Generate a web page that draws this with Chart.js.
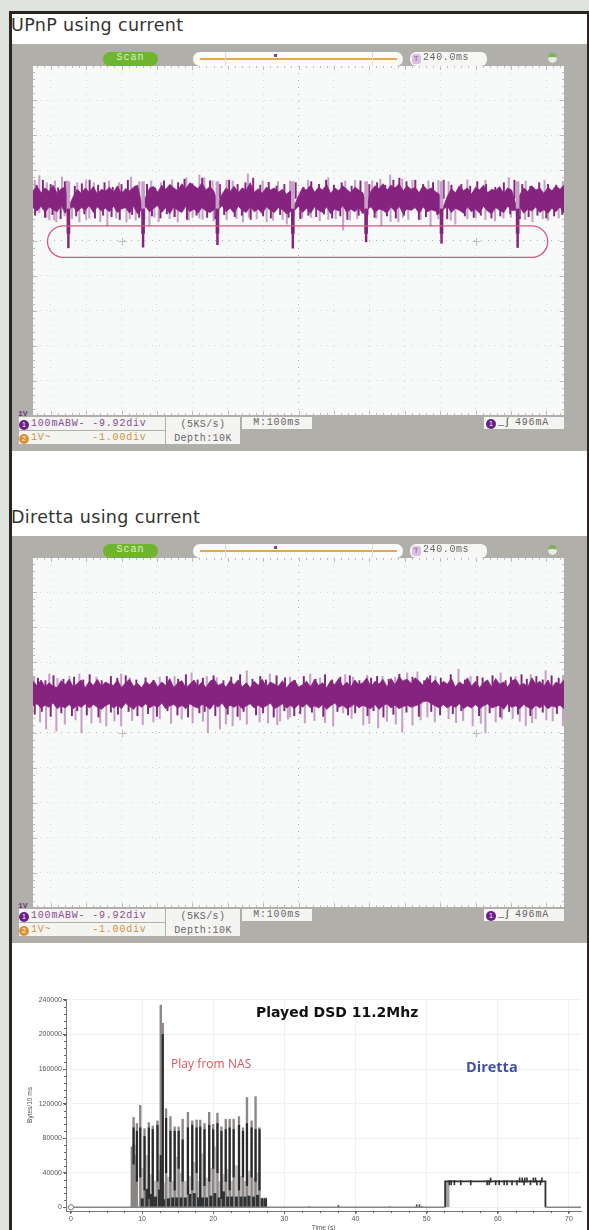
<!DOCTYPE html>
<html>
<head>
<meta charset="utf-8">
<title>UPnP vs Diretta</title>
<script src="https://cdn.jsdelivr.net/npm/chart.js@4/dist/chart.umd.min.js"></script>
<style>
html, body { margin: 0; padding: 0; background: #dfe3de; }
body { position: relative; width: 589px; height: 1230px; overflow: hidden; }
#card { position: absolute; left: 9px; top: 11px; width: 575px; height: 1225px; background: #fff; border: 3px solid #2a2422; border-width: 3px 3px 0 3px; }
.abs, canvas { position: absolute; }
.head { position: absolute; left: 11px; font: 17.5px "DejaVu Sans", sans-serif; letter-spacing: 0.35px; color: #333; white-space: nowrap; }
.panel { position: absolute; left: 12px; width: 575px; height: 407px; background: #b1afa9; filter: blur(0.35px); }
.panel canvas { left: 21px; top: 22px; }
.panel div { position: absolute; box-sizing: border-box; font: 10px "Liberation Mono", monospace; white-space: pre; color: #666; }
.scan { left: 91px; top: 8px; width: 55px; height: 14px; border-radius: 7px; background: #70b52f; color: #dff0cc !important; text-align: center; line-height: 14px; letter-spacing: 1px; }
.bar { left: 181px; top: 8px; width: 210px; height: 14px; border-radius: 7px; background: #fbfbfa; }
.bar i { position: absolute; display: block; }
.tbox { left: 398px; top: 8px; width: 77px; height: 14px; border-radius: 6px; background: #f6f6f5; padding-left: 13px; line-height: 14px; letter-spacing: 0.6px; }
.tbox b { position: absolute; left: 2px; top: 2px; width: 9px; height: 10px; border-radius: 3px; background: #d9bfe0; color: #8a5a9c; font: 8px "Liberation Mono", monospace; line-height: 10px; text-align: center; }
.icon { left: 536px; top: 9px; width: 9px; height: 10px; border-radius: 50%; background: #e8ece4; border-top: 4px solid #7db356; }
.cell { background: #f4f4f2; line-height: 15px; letter-spacing: 0.8px; }
.dot { display: inline-block; width: 10px; height: 10px; margin-right: 2px; border-radius: 50%; color: #fff; font: 7px "Liberation Sans", sans-serif; line-height: 10px; text-align: center; vertical-align: -1px; letter-spacing: 0; }
.note { position: absolute; white-space: nowrap; }
</style>
</head>
<body>
<div id="card"></div>
<div class="head" style="top:15px">UPnP using current</div>
<div class="head" style="top:507px">Diretta using current</div>
<div class="panel" id="panelUpnp" style="top:44px"><canvas id="scopeUpnp" width="531" height="349"></canvas></div>
<div class="panel" id="panelDiretta" style="top:536px"><canvas id="scopeDiretta" width="531" height="349"></canvas></div>
<canvas id="bytesChart" width="566" height="240" style="left:20px;top:990px;filter:blur(0.3px)"></canvas>
<div class="note" style="left:256px;top:1004px;font:bold 14px 'DejaVu Sans',sans-serif;color:#111">Played DSD 11.2Mhz</div>
<div class="note" style="left:171px;top:1055px;font:12px 'Open Sans',sans-serif;letter-spacing:0.05px;color:#d9535b">Play from NAS</div>
<div class="note" style="left:466px;top:1057px;font:bold 14.5px 'Open Sans',sans-serif;color:#3f52a3">Diretta</div>
<script>
// scope screens: 100 mA/div, 100 ms/div
const scopeTimeTicks = [-700, -600, -500, -400, -300, -200, -100, 0, 100, 200, 300, 400, 500, 600, 700];
const scopeCurrentTicks = [-400, -300, -200, -100, 0, 100, 200, 300, 400];

// UPnP trace, one column each ~11 ms across the screen (mA)
const upnpCoreTop = [
  142,155,136,150,140,158,134,148,152,100,
  125,146,134,150,138,154,132,146,141,152,
  138,156,133,148,142,152,158,104,124,150,
  154,138,158,146,160,150,142,162,148,165,
  156,148,164,144,154,140,106,132,150,140,
  155,136,150,144,165,138,148,134,152,144,
  150,138,146,132,142,100,128,150,144,158,
  138,152,144,160,134,150,142,156,146,136,
  152,144,136,104,140,156,148,162,144,158,
  150,162,142,156,146,152,136,158,144,150,
  140,132,96,126,148,136,156,142,150,132,
  152,144,158,136,146,142,154,134,150,144,
  104,130,150,140,156,144,150,134,152,142,
  156,146,158];
const upnpCoreBottom = [
  94,84,98,80,96,88,82,100,78,90,
  96,82,94,86,100,80,96,84,92,82,
  98,80,90,94,78,98,76,88,96,82,
  92,100,80,94,76,96,86,80,98,82,
  90,78,94,84,80,88,86,100,82,92,
  78,98,86,80,98,82,90,76,96,86,
  80,94,88,76,82,86,98,80,92,78,
  96,86,80,96,76,90,84,100,80,90,
  82,94,76,88,96,80,90,86,78,96,
  82,98,78,90,86,94,78,96,82,88,
  84,76,88,98,80,92,86,78,96,82,
  90,78,98,84,76,94,86,80,98,86,
  86,96,78,90,84,96,80,88,78,92,
  82,96,78];
const upnpUpMs = [-745,-732,-711,-688,-668,-654,-625,-600,-578,-535,-507,-473,-450,-416,-388,-357,-317,-280,-266,-243,-203,-186,-143,-101,-58,-24,27,84,132,160,208,231,259,293,322,367,395,424,477,528,594,642,695,747];
const upnpUpMa = [172,185,165,170,181,170,165,173,165,170,165,181,168,170,165,173,179,187,179,170,172,170,190,170,168,170,172,179,170,172,170,175,187,175,172,170,172,168,173,172,179,170,172,168];
const upnpDownMs = [-732,-704,-684,-661,-619,-591,-540,-486,-477,-421,-407,-364,-341,-299,-271,-203,-157,-118,-72,-33,10,84,126,166,234,282,310,373,443,477,528,579,661,690,735,
  -712,-690,-640,-600,-560,-515,-460,-435,-395,-350,-310,-280,-240,-175,-140,-90,-45,35,60,105,145,220,260,295,345,395,430,500,555,600,640,705];
const upnpDownMa = [79,59,53,70,53,64,41,53,62,41,66,62,53,66,60,60,53,62,58,47,64,60,30,62,41,53,60,41,47,62,60,64,53,62,64,
  66,58,62,60,54,64,58,60,54,68,58,64,56,62,66,54,60,66,56,62,58,64,54,66,60,62,58,64,56,66,60,58];
const upnpDarkUpMs = [-740,-722,-700,-679,-660,-632,-612,-590,-566,-548,-525,-500,-482,-461,-428,-405,-380,-362,-340,-322,-300,-272,-250,-222,-196,-172,-150,-128,-108,-84,-62,-40,-8,14,36,58,78,100,122,150,175,200,222,245,268,285,305,330,352,380,410,432,460,485,505,530,556,580,610,632,655,680,705,728];
const upnpDarkUpMa = [158,172,160,150,168,155,162,172,158,165,152,160,172,155,160,150,170,158,165,175,162,178,170,160,172,160,165,178,158,166,155,160,165,152,168,160,172,158,165,155,170,160,165,158,172,178,168,172,160,165,172,158,160,155,168,160,152,165,172,160,155,165,160,158];
const upnpDarkDownMs = [-744,-716,-695,-672,-628,-605,-575,-552,-528,-505,-470,-450,-414,-390,-372,-350,-315,-288,-258,-235,-210,-180,-160,-135,-100,-78,-52,-28,5,28,50,72,95,118,138,170,195,215,250,275,298,340,360,392,420,470,495,515,545,570,598,625,650,675,700,722,745];
const upnpDarkDownMa = [72,66,74,62,70,76,64,72,68,60,74,66,70,64,76,68,60,72,66,62,74,68,72,60,70,64,74,66,62,72,68,76,64,70,60,72,74,66,70,64,72,60,68,74,62,70,66,72,64,70,76,62,68,72,64,70,74];
const upnpDipMs = [-650,-439,-229,-16,191,404,619];
const upnpDipMa = [-21,-19,-12,-22,-4,-8,-20];

// Diretta trace
const direttaCoreTop = [
  146,134,150,130,142,132,128,148,136,152,
  130,140,150,128,146,134,152,132,144,138,
  134,150,128,142,152,132,140,128,146,136,
  150,130,144,134,154,128,142,148,128,138,
  150,132,144,128,146,152,134,140,130,148,
  136,150,130,142,128,146,134,152,130,144,
  138,132,148,128,142,150,130,136,146,130,
  152,134,142,128,148,136,154,132,144,130,
  150,136,142,156,130,146,138,152,130,154,
  136,160,146,152,140,156,146,134,158,140,
  150,134,146,138,154,130,144,136,156,132,
  146,128,142,150,130,154,138,144,130,148,
  152,134,140,130,156,138,146,132,150,128,
  144,136,150];
const direttaCoreBottom = [
  76,82,70,78,72,84,68,76,70,80,
  68,78,72,82,70,80,72,66,76,82,
  70,78,68,84,74,66,80,72,82,70,
  78,72,84,68,76,80,70,78,68,82,
  74,70,80,76,66,82,72,84,68,78,
  72,80,68,76,82,70,78,70,76,84,
  68,74,82,70,78,68,80,72,82,70,
  76,70,80,66,76,84,72,78,68,74,
  82,70,78,72,68,80,66,76,82,70,
  78,68,74,78,72,76,80,88,90,82,
  76,70,80,70,78,72,82,68,76,70,
  80,68,76,82,70,74,78,66,82,72,
  76,68,80,72,66,78,70,80,68,76,
  72,78,68];
const direttaUpMs = [-747,-704,-681,-647,-619,-571,-501,-477,-392,-350,-302,-259,-231,-146,-81,-24,33,61,132,154,194,237,273,307,336,387,452,486,571,613,656,698,747];
const direttaUpMa = [160,167,155,160,167,158,167,156,158,160,170,160,156,176,167,158,167,156,165,158,163,160,158,170,173,160,181,160,170,160,165,176,163];
const direttaDownMs = [-713,-684,-613,-585,-543,-520,-501,-392,-299,-256,-222,-186,-146,-86,-52,-24,18,98,126,183,225,293,322,364,424,492,528,557,605,642,670,718,747,
  -730,-660,-630,-560,-470,-440,-410,-360,-330,-270,-205,-165,-110,-60,-30,45,75,150,200,250,275,345,385,445,465,515,575,625,660,700];
const direttaDownMa = [10,4,-1,27,19,33,19,39,27,-1,10,19,24,27,33,44,27,19,56,21,13,1,21,44,39,19,-1,30,39,19,39,33,19,
  30,24,36,28,34,22,30,26,38,32,24,36,30,22,38,34,28,40,26,32,24,36,30,28,34,26,38,32,28,36];
const direttaDarkUpMs = [-736,-715,-692,-664,-634,-608,-590,-556,-530,-512,-488,-458,-432,-410,-372,-340,-318,-285,-270,-240,-212,-190,-165,-130,-108,-92,-62,-38,-10,15,48,75,95,118,145,172,205,222,255,285,300,322,355,372,402,430,470,505,520,548,585,600,630,645,672,690,715,735];
const direttaDarkUpMa = [155,148,162,152,158,150,165,148,160,155,162,150,156,148,160,152,165,150,155,162,148,158,165,152,160,150,162,156,148,160,152,165,150,158,162,148,155,160,152,166,150,158,148,162,155,165,150,160,156,162,148,158,165,152,160,150,162,155];
const direttaDarkDownMs = [-745,-725,-700,-670,-640,-625,-598,-565,-530,-510,-480,-455,-425,-400,-370,-342,-312,-280,-265,-235,-200,-172,-155,-120,-100,-70,-40,-12,5,38,70,110,140,160,195,212,240,268,305,340,375,400,436,460,510,540,570,595,620,655,690,730];
const direttaDarkDownMa = [52,60,46,56,48,62,50,44,58,52,60,48,54,46,62,50,44,56,60,48,52,46,60,50,56,44,62,48,54,58,46,60,50,56,48,62,44,52,58,46,60,50,54,62,48,56,44,60,52,48,58,54];

// trigger envelope around the UPnP dips
const dipPillMs = [-709, 704];
const dipPillMa = [42, -48];

// bytes chart
const byteTimeTicks = [0, 10, 20, 30, 40, 50, 60, 70];
const byteValueTicks = [0, 40000, 80000, 120000, 160000, 200000, 240000];
const burstTimes = [8.8,9.27,9.74,10.34,10.95,11.5,12.16,12.62,12.9,13.37,13.98,14.58,15.14,15.7,16.44,17.05,17.66,18.17,18.77,19.43,19.99,20.59,21.15,21.76,22.31,22.87,23.62,24.18,24.74,25.39,25.95,26.5];
const burstPeaks = [104000,97000,118000,91000,98000,94000,100000,234000,213000,114000,105000,93000,93000,102000,110000,100000,101000,101000,97000,110000,96000,109000,93000,102000,102000,102000,105000,92000,127000,100000,128000,92000];
const burstDarkTop = [92000,88000,92000,82000,92000,90000,95000,60000,200000,103000,88000,88000,88000,78000,92000,95000,92000,93000,90000,95000,90000,97000,88000,90000,92000,90000,95000,88000,97000,92000,90000,90000];
const burstDarkBottom = [50000,30000,35000,20000,10000,0,30000,0,0,40000,30000,20000,45000,30000,15000,20000,40000,0,25000,30000,45000,40000,10000,30000,20000,35000,20000,35000,25000,35000,30000,20000];
const floorTimes = [10.02,10.67,11.28,11.88,12.44,13.05,13.7,14.3,14.86,15.47,16.07,16.72,17.33,17.94,18.5,19.05,19.66,20.22,20.82,21.43,22.03,22.59,23.25,23.9,24.46,25.02,25.67,26.23,26.88,27.35];
const floorBytes = [10000,21000,15000,12000,20000,9000,10000,11000,11000,11000,11000,15000,16000,11000,11000,11000,13000,16000,11000,18000,12000,12000,12000,12000,12000,13000,12000,14000,10000,10000];
const hazeBytes = [45000,60000,38000,30000,42000,28000,35000,30000,58000,40000,30000,36000,52000,30000,62000,34000,45000,70000,30000,38000,44000,30000,48000,36000,30000,42000,34000,40000,11000,11000];
const hazeLeftTimes = [8.6, 8.85, 9.1];
const hazeLeftBytes = [70000, 72000, 60000];
const idleTimes = [0, 52.6, 52.6, 66.7, 66.7, 71.7];
const idleBytes = [0, 0, null, null, 0, 0];
const plateauTimes = [52.6, 52.6, 66.7, 66.7];
const plateauBytes = [0, 30000, 30000, 0];
const idleBlipTimes = [33.5, 37.6, 44.8, 48.6, 49.0, 49.3];
const idleBlipBytes = [500, 2200, 600, 3000, 3000, 800];
const direttaTickUp = [59.0, 63.07, 63.44, 63.8, 64.1, 65.0, 65.3, 66.2];
const direttaTickDown = [53.2, 53.45, 53.9, 54.8, 56.2, 58.5, 58.8, 59.7, 60.2, 60.9, 61.3, 62.0, 62.7, 63.7, 64.6, 65.5, 66.0];

const TRACE_DARK = '#86237f';
const TRACE_LIGHT = '#c7a0c7';
const GRID_DOT = '#d6d7d6';

function columns(values) {
    // columns are evenly spread over the 1500 ms on screen
    return values.map((v, i) => ({ x: -750 + i * 1500 / (values.length - 1), y: v }));
}

function spikes(times, values, base) {
    return times.map((t, i) => ({ x: t, y: [base, values[i]] }));
}

// frame ticks, centre crosses and the red envelope
const scopeDecor = {
    id: 'scopeDecor',
    beforeDatasetsDraw(chart) {
        const g = chart.ctx, x = chart.scales.x, y = chart.scales.y, a = chart.chartArea;
        g.save();
        g.strokeStyle = '#bdbdbd';
        g.lineWidth = 1;
        g.beginPath();
        for (let t = -740; t <= 740; t += 20) {
            const len = t % 100 === 0 ? 4 : 2, px = Math.round(x.getPixelForValue(t)) + 0.5;
            g.moveTo(px, a.top); g.lineTo(px, a.top + len);
            g.moveTo(px, a.bottom); g.lineTo(px, a.bottom - len);
        }
        for (let v = -480; v <= 480; v += 20) {
            const len = v % 100 === 0 ? 4 : 2, py = Math.round(y.getPixelForValue(v)) + 0.5;
            g.moveTo(a.left, py); g.lineTo(a.left + len, py);
            g.moveTo(a.right, py); g.lineTo(a.right - len, py);
        }
        [-500, 500].forEach(t => {
            const px = Math.round(x.getPixelForValue(t)) + 0.5, py = Math.round(y.getPixelForValue(0)) + 0.5;
            g.moveTo(px - 4, py); g.lineTo(px + 4, py);
            g.moveTo(px, py - 4); g.lineTo(px, py + 4);
        });
        g.stroke();
        g.restore();
    },
    afterDatasetsDraw(chart, args, opts) {
        if (!opts.pillMs) return;
        const g = chart.ctx, x = chart.scales.x, y = chart.scales.y;
        const left = x.getPixelForValue(opts.pillMs[0]), right = x.getPixelForValue(opts.pillMs[1]);
        const top = y.getPixelForValue(opts.pillMa[0]), bottom = y.getPixelForValue(opts.pillMa[1]);
        g.save();
        g.strokeStyle = '#d9567c';
        g.lineWidth = 1.3;
        g.beginPath();
        g.roundRect(left, top, right - left, bottom - top, (bottom - top) / 2);
        g.stroke();
        g.restore();
    }
};

function drawScope(id, trace, pill) {
    const datasets = [
        { type: 'bar', data: spikes(trace.upMs, trace.upMa, 120), backgroundColor: TRACE_LIGHT, barThickness: 1.4, order: 5 },
        { type: 'bar', data: spikes(trace.downMs, trace.downMa, 100), backgroundColor: TRACE_LIGHT, barThickness: 1.4, order: 5 },
        { type: 'bar', data: spikes(trace.darkUpMs, trace.darkUpMa, 120), backgroundColor: TRACE_DARK, barThickness: 1.3, order: 4 },
        { type: 'bar', data: spikes(trace.darkDownMs, trace.darkDownMa, 100), backgroundColor: TRACE_DARK, barThickness: 1.3, order: 4 },
        { type: 'line', data: columns(trace.top), borderColor: TRACE_DARK, backgroundColor: TRACE_DARK, borderWidth: 0.8, pointRadius: 0, fill: '+1', order: 3 },
        { type: 'line', data: columns(trace.bottom), borderColor: TRACE_DARK, borderWidth: 0.8, pointRadius: 0, fill: false, order: 3 }
    ];
    if (trace.dipMs) {
        datasets.push({ type: 'bar', data: spikes(trace.dipMs, trace.dipMs.map(() => 168), 70), backgroundColor: TRACE_LIGHT, barThickness: 3, order: 2 });
        datasets.push({ type: 'bar', data: spikes(trace.dipMs, trace.dipMs.map(() => 20), 90), backgroundColor: TRACE_DARK, barThickness: 3, order: 1 });
        datasets.push({ type: 'bar', data: spikes(trace.dipMs, trace.dipMa, 40), backgroundColor: TRACE_DARK, barThickness: 1.8, order: 1 });
    }
    return new Chart(document.getElementById(id), {
        type: 'bar',
        data: { datasets },
        options: {
            responsive: false,
            animation: false,
            events: [],
            layout: { padding: 0 },
            datasets: { bar: { grouped: false } },
            plugins: { legend: { display: false }, tooltip: { enabled: false }, scopeDecor: pill || {} },
            scales: {
                x: {
                    type: 'linear', min: -750, max: 750, offset: false,
                    afterBuildTicks: s => { s.ticks = scopeTimeTicks.map(v => ({ value: v })); },
                    grid: { offset: false, drawTicks: false, color: c => c.tick.value === 0 ? '#b0b0b0' : GRID_DOT },
                    border: { display: false, dash: [1, 6] },
                    ticks: { display: false }
                },
                y: {
                    min: -498, max: 498,
                    afterBuildTicks: s => { s.ticks = scopeCurrentTicks.map(v => ({ value: v })); },
                    grid: { drawTicks: false, color: c => c.tick.value === 0 ? '#b0b0b0' : GRID_DOT },
                    border: { display: false, dash: [1, 6] },
                    ticks: { display: false }
                }
            }
        },
        plugins: [scopeDecor, { id: 'screen', beforeDraw(c) { c.ctx.fillStyle = '#f8f9f9'; c.ctx.fillRect(0, 0, c.width, c.height); } }]
    });
}

// the instrument chrome around each screen
function addChrome(panelId) {
    const p = document.getElementById(panelId);
    const circle = (n, col) => `<span class="dot" style="background:${col}">${n}</span>`;
    p.insertAdjacentHTML('beforeend', `
        <div class="scan">Scan</div>
        <div class="bar">
            <i style="left:7px;top:6px;width:197px;height:1.5px;background:#e3a94c"></i>
            <i style="left:32px;top:0;width:1px;height:14px;background:#dcdcdc"></i>
            <i style="left:179px;top:0;width:1px;height:14px;background:#dcdcdc"></i>
            <i style="left:81px;top:2px;width:3px;height:3px;background:#8a3d8f"></i>
        </div>
        <div class="tbox"><b>T</b>240.0ms</div>
        <div class="icon"></div>
        <div style="left:6px;top:365px;font:bold 8px 'Liberation Mono',monospace;color:#6b3a7d">1V</div>
        <div class="cell" style="left:7px;top:373px;width:146px;height:13px;line-height:14px;color:#8a4b92">${circle(1, '#6b1f87')}100mABW- -9.92div</div>
        <div class="cell" style="left:7px;top:387px;width:146px;height:13px;line-height:14px;color:#d98f35">${circle(2, '#e0902c')}1V~      -1.00div</div>
        <div class="cell" style="left:154px;top:373px;width:74px;height:27px;line-height:14px;padding-top:1px;text-align:center;letter-spacing:0.4px">(5KS/s)<br>Depth:10K</div>
        <div class="cell" style="left:230px;top:373px;width:70px;height:12px;line-height:12px;text-align:center">M:100ms</div>
        <div class="cell" style="left:472px;top:373px;width:80px;height:12px;line-height:12px;padding-left:2px">${circle(1, '#6b1f87')}<span style="color:#444;letter-spacing:0">_&#x222B;</span><span style="margin-left:5px">496mA</span></div>
    `);
}

addChrome('panelUpnp');
addChrome('panelDiretta');
drawScope('scopeUpnp', {
    top: upnpCoreTop, bottom: upnpCoreBottom, upMs: upnpUpMs, upMa: upnpUpMa, downMs: upnpDownMs, downMa: upnpDownMa,
    darkUpMs: upnpDarkUpMs, darkUpMa: upnpDarkUpMa, darkDownMs: upnpDarkDownMs, darkDownMa: upnpDarkDownMa,
    dipMs: upnpDipMs, dipMa: upnpDipMa
}, { pillMs: dipPillMs, pillMa: dipPillMa });
drawScope('scopeDiretta', {
    top: direttaCoreTop, bottom: direttaCoreBottom, upMs: direttaUpMs, upMa: direttaUpMa, downMs: direttaDownMs, downMa: direttaDownMa,
    darkUpMs: direttaDarkUpMs, darkUpMa: direttaDarkUpMa, darkDownMs: direttaDarkDownMs, darkDownMa: direttaDarkDownMa
});

// minor ticks on both axes of the bytes chart
const axisMinorTicks = {
    id: 'axisMinorTicks',
    afterDraw(chart) {
        const g = chart.ctx, x = chart.scales.x, y = chart.scales.y, a = chart.chartArea;
        g.save();
        g.strokeStyle = '#666';
        g.lineWidth = 1;
        g.beginPath();
        for (let t = 0; t <= 70; t += 2.5) {
            const px = Math.round(x.getPixelForValue(t)) + 0.5;
            g.moveTo(px, a.bottom); g.lineTo(px, a.bottom + 2);
        }
        for (let v = 0; v <= 240000; v += 8000) {
            const py = Math.round(y.getPixelForValue(v)) + 0.5;
            g.moveTo(a.left, py); g.lineTo(a.left - 2, py);
        }
        g.stroke();
        g.restore();
    }
};

const pairs = (times, values) => times.map((t, i) => ({ x: t, y: values[i] }));
const axisFont = { family: "'Liberation Sans', sans-serif", size: 7 };

new Chart(document.getElementById('bytesChart'), {
    type: 'bar',
    data: {
        datasets: [
            { type: 'line', data: pairs(idleTimes, idleBytes), borderColor: '#858585', borderWidth: 1.6, pointRadius: 0, order: 2 },
            { type: 'line', data: pairs(plateauTimes, plateauBytes), borderColor: '#333', borderWidth: 1.8, pointRadius: 0, order: 2 },
            { type: 'line', data: [{ x: 0, y: 0 }], borderColor: '#777', backgroundColor: '#fff', borderWidth: 1, pointRadius: 2.6, order: 1 },
            { type: 'bar', data: spikes(hazeLeftTimes, hazeLeftBytes, 0), backgroundColor: '#858585', barThickness: 2.4, order: 7 },
            { type: 'bar', data: spikes(floorTimes, hazeBytes, 0), backgroundColor: '#c2c2c2', barThickness: 2.4, order: 8 },
            { type: 'bar', data: spikes(burstTimes, burstPeaks, 0), backgroundColor: '#8c8785', barThickness: 1.7, order: 6 },
            { type: 'bar', data: burstTimes.map((t, i) => ({ x: t, y: [burstDarkBottom[i], burstDarkTop[i]] })), backgroundColor: '#2a2a2a', barThickness: 1.5, order: 5 },
            { type: 'bar', data: spikes(floorTimes, floorBytes, 0), backgroundColor: '#2f3335', barThickness: 2.4, order: 4 },
            { type: 'bar', data: spikes(idleBlipTimes, idleBlipBytes, 0), backgroundColor: '#444', barThickness: 1, order: 3 },
            { type: 'bar', data: spikes(direttaTickUp, direttaTickUp.map(() => 34000), 29000), backgroundColor: '#333', barThickness: 1, order: 3 },
            { type: 'bar', data: spikes(direttaTickDown, direttaTickDown.map(() => 26000), 31000), backgroundColor: '#333', barThickness: 1, order: 3 },
            { type: 'bar', data: [{ x: 52.95, y: [0, 30000] }], backgroundColor: '#a2a2a2', barThickness: 3, order: 3 }
        ]
    },
    options: {
        responsive: false,
        animation: false,
        events: [],
        layout: { padding: { top: 9, right: 2, bottom: 0, left: 0 } },
        datasets: { bar: { grouped: false } },
        plugins: { legend: { display: false }, tooltip: { enabled: false } },
        scales: {
            x: {
                type: 'linear', min: -0.7, max: 71.7, offset: false,
                afterBuildTicks: s => { s.ticks = byteTimeTicks.map(v => ({ value: v })); },
                afterFit: s => { s.height = 19; },
                grid: { offset: false, color: '#f1f1f1', tickColor: '#666', tickLength: 3 },
                border: { color: '#777' },
                ticks: { font: axisFont, color: '#555', padding: 1, maxRotation: 0, autoSkip: false },
                title: { display: true, text: 'Time (s)', font: { family: axisFont.family, size: 6.5 }, color: '#555', padding: { top: 0, bottom: -2 } }
            },
            y: {
                min: -4300, max: 241100,
                afterBuildTicks: s => { s.ticks = byteValueTicks.map(v => ({ value: v })); },
                afterFit: s => { s.width = 46; },
                grid: { color: '#f1f1f1', tickColor: '#666', tickLength: 3 },
                border: { color: '#777' },
                ticks: { font: axisFont, color: '#555', padding: 1, autoSkip: false, callback: v => String(v) },
                title: { display: true, text: 'Bytes/10 ms', font: { family: axisFont.family, size: 6.5 }, color: '#555', padding: { top: 6, bottom: 0 } }
            }
        }
    },
    plugins: [axisMinorTicks]
});
</script>
</body>
</html>
